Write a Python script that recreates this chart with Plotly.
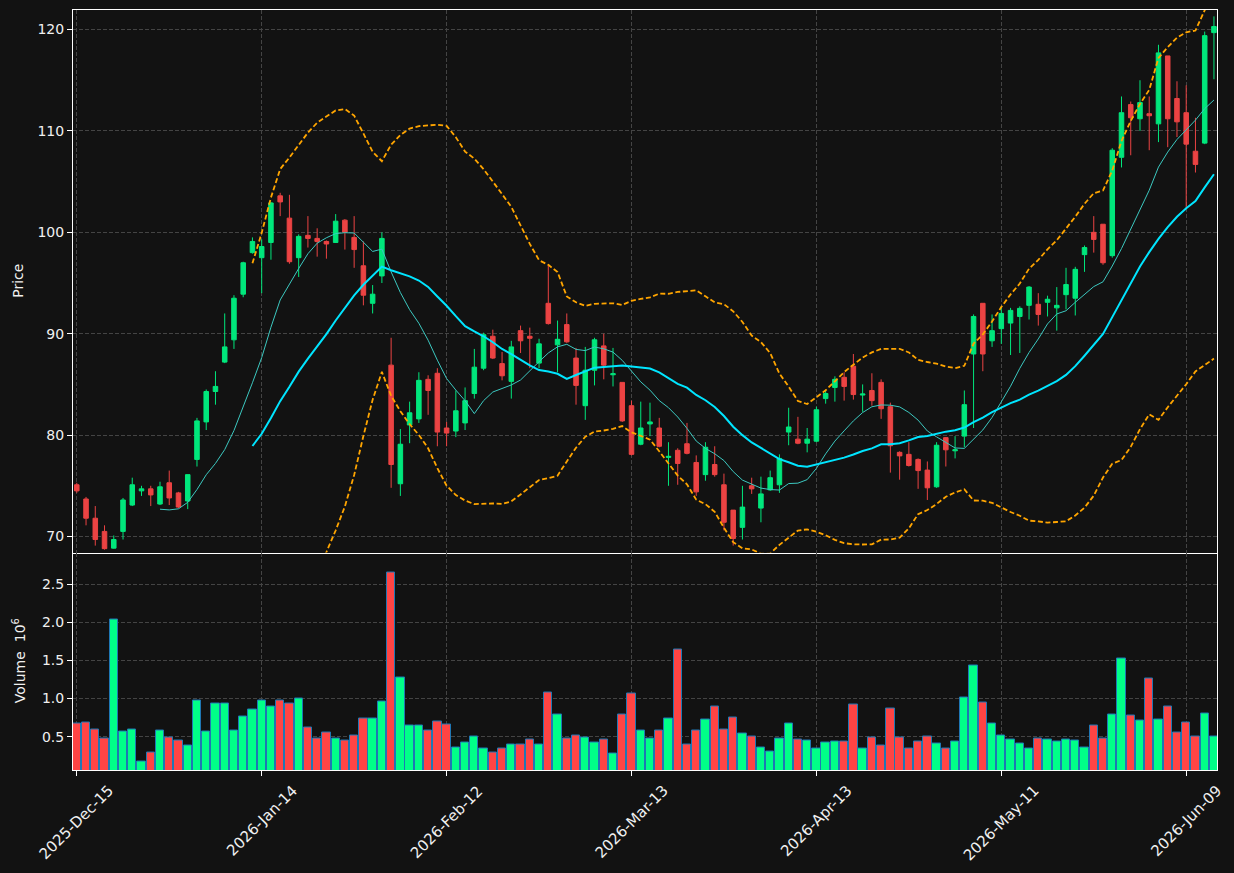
import pandas as pd
import plotly.graph_objects as go

# ---------------- data ----------------
opens = [75.1, 73.7, 71.8, 70.5, 68.85, 70.5, 73.1, 74.5, 74.7, 73.2,
         75.3, 74.3, 73.5, 77.6, 81.3, 84.3, 87.2, 89.4, 93.9, 98.0,
         97.5, 99.0, 103.6, 101.4, 97.5, 99.7, 99.4, 99.1, 99.0, 101.2,
         99.5, 96.7, 93.0, 95.7, 86.9, 75.2, 81.0, 81.6, 85.5, 86.1,
         80.7, 80.4, 81.2, 84.1, 86.6, 89.75, 87.05, 85.3, 90.3, 89.75,
         87.1, 93.0, 88.9, 90.9, 87.6, 82.9, 86.4, 88.8, 85.95, 85.2,
         82.9, 79.1, 81.1, 80.7, 77.8, 78.5, 79.15, 77.3, 76.1, 77.1,
         75.1, 72.6, 70.9, 75.0, 72.8, 74.6, 75.1, 80.3, 79.6, 79.2,
         79.4, 83.6, 84.7, 85.7, 86.8, 83.95, 84.4, 85.2, 82.8, 78.3,
         78.1, 77.6, 76.55, 74.9, 79.75, 78.45, 79.9, 88.0, 93.0, 89.3,
         90.5, 91.05, 91.7, 92.8, 92.9, 93.1, 92.55, 93.85, 93.5, 97.8,
         100.0, 100.8, 97.7, 107.4, 112.6, 111.2, 111.7, 110.7, 117.4, 113.2,
         111.8, 108.0, 108.8, 119.7]
highs = [75.3, 73.9, 73.0, 71.1, 70.1, 73.8, 75.8, 75.0, 75.0, 75.4,
         76.5, 74.4, 76.1, 81.7, 84.5, 86.3, 92.0, 93.8, 97.1, 99.5,
         99.3, 103.0, 103.9, 103.7, 99.8, 101.6, 100.4, 99.2, 101.8, 101.3,
         101.6, 99.1, 94.8, 100.0, 89.6, 80.6, 83.3, 86.2, 85.9, 86.6,
         81.3, 84.4, 84.7, 88.5, 90.1, 90.4, 88.2, 89.3, 90.8, 90.6,
         89.5, 96.7, 91.3, 92.0, 88.6, 88.7, 89.6, 90.0, 88.6, 85.2,
         83.4, 83.3, 83.2, 81.7, 79.3, 78.7, 81.2, 78.0, 79.3, 78.9,
         76.2, 72.6, 75.0, 75.8, 75.9, 76.5, 78.1, 82.7, 81.8, 80.7,
         82.8, 84.4, 85.8, 86.2, 88.0, 85.0, 86.1, 85.5, 83.2, 78.4,
         79.3, 77.7, 77.4, 79.3, 79.8, 79.9, 84.4, 91.9, 93.0, 91.9,
         92.7, 92.55, 92.7, 94.7, 94.0, 93.75, 94.6, 96.5, 96.6, 98.7,
         101.6, 100.8, 108.3, 113.4, 112.9, 115.0, 113.4, 118.5, 117.4, 114.9,
         114.5, 111.3, 119.8, 121.3]
lows = [74.3, 71.1, 69.1, 68.7, 68.8, 69.7, 73.0, 74.0, 73.0, 73.1,
        73.1, 72.8, 72.7, 76.9, 80.5, 83.0, 87.1, 88.5, 93.6, 97.9,
        94.0, 97.3, 101.6, 96.9, 95.6, 98.5, 97.6, 97.4, 99.0, 98.3,
        96.5, 92.8, 92.0, 95.0, 74.8, 74.0, 79.2, 81.2, 82.0, 78.9,
        78.9, 79.8, 80.5, 83.6, 86.4, 87.5, 85.4, 83.6, 88.1, 86.6,
        86.6, 90.9, 86.2, 89.1, 83.0, 81.5, 84.9, 85.5, 84.8, 81.3,
        78.0, 79.0, 79.9, 78.8, 75.0, 75.1, 78.1, 74.0, 75.5, 75.9,
        70.6, 69.1, 69.7, 74.2, 71.4, 74.5, 74.3, 79.0, 79.1, 78.3,
        79.3, 83.1, 83.3, 83.4, 83.5, 82.3, 82.9, 81.6, 76.3, 75.6,
        76.9, 74.7, 73.6, 74.8, 76.9, 77.7, 78.8, 80.7, 86.3, 88.7,
        89.0, 87.9, 88.1, 91.4, 90.8, 91.7, 90.3, 92.4, 91.8, 96.1,
        98.0, 96.8, 97.5, 106.4, 107.6, 110.0, 108.1, 108.9, 108.4, 109.4,
        102.4, 105.9, 108.7, 115.1]
closes = [74.5, 71.8, 69.7, 68.8, 69.7, 73.6, 75.1, 74.7, 74.1, 74.9,
          73.8, 72.9, 76.1, 81.4, 84.3, 84.8, 88.7, 93.5, 97.0, 99.1,
          98.6, 102.9, 103.0, 97.1, 99.6, 99.4, 99.1, 98.85, 101.1, 100.0,
          98.3, 93.8, 93.9, 99.4, 77.1, 79.1, 82.2, 85.4, 84.4, 80.3,
          80.2, 82.4, 83.4, 86.7, 89.9, 87.6, 85.85, 88.7, 89.3, 89.55,
          89.0, 91.0, 89.45, 89.2, 84.9, 86.4, 89.4, 86.9, 86.05, 81.4,
          78.1, 80.7, 81.3, 78.9, 77.9, 77.2, 78.2, 74.4, 78.8, 76.1,
          71.4, 69.8, 72.9, 74.7, 74.2, 75.8, 77.7, 80.8, 79.2, 79.6,
          82.5, 84.1, 85.5, 84.8, 84.0, 84.05, 83.4, 82.6, 78.95, 77.95,
          77.0, 76.5, 74.8, 79.0, 78.55, 78.55, 83.0, 91.7, 88.0, 90.3,
          92.0, 92.3, 92.5, 94.6, 91.9, 93.4, 92.8, 94.85, 96.35, 98.5,
          99.3, 97.0, 108.1, 111.8, 111.3, 112.8, 111.5, 117.7, 111.2, 110.9,
          108.7, 106.7, 119.4, 120.3]
volume_millions = [0.67, 0.69, 0.60, 0.48, 2.04, 0.57, 0.59, 0.17, 0.29, 0.58,
                   0.49, 0.45, 0.38, 0.98, 0.57, 0.94, 0.94, 0.58, 0.77, 0.85,
                   0.98, 0.89, 0.98, 0.94, 1.00, 0.62, 0.47, 0.56, 0.48, 0.45,
                   0.52, 0.74, 0.74, 0.96, 2.65, 1.27, 0.64, 0.64, 0.58, 0.70,
                   0.66, 0.36, 0.42, 0.50, 0.34, 0.29, 0.35, 0.40, 0.40, 0.46,
                   0.40, 1.08, 0.79, 0.47, 0.51, 0.49, 0.42, 0.46, 0.28, 0.79,
                   1.07, 0.58, 0.47, 0.58, 0.74, 1.64, 0.40, 0.58, 0.73, 0.89,
                   0.60, 0.75, 0.54, 0.50, 0.36, 0.30, 0.47, 0.67, 0.46, 0.45,
                   0.34, 0.42, 0.44, 0.44, 0.92, 0.35, 0.49, 0.38, 0.87, 0.49,
                   0.35, 0.44, 0.50, 0.41, 0.35, 0.44, 1.01, 1.43, 0.95, 0.67,
                   0.51, 0.46, 0.41, 0.34, 0.47, 0.46, 0.44, 0.46, 0.45, 0.36,
                   0.64, 0.47, 0.79, 1.53, 0.78, 0.71, 1.26, 0.73, 0.90, 0.56,
                   0.68, 0.50, 0.81, 0.50]
tick_positions = [0, 20, 40, 60, 80, 100, 120]
tick_labels = ["2025-Dec-15", "2026-Jan-14", "2026-Feb-12", "2026-Mar-13",
               "2026-Apr-13", "2026-May-11", "2026-Jun-09"]
price_ticks = [70, 80, 90, 100, 110, 120]
volume_ticks = [0.5, 1.0, 1.5, 2.0, 2.5]

# ---------------- derived ----------------
idx = list(range(len(closes)))
cs = pd.Series(closes)
ma10 = cs.rolling(10).mean()
ma20 = cs.rolling(20).mean()
sd20 = cs.rolling(20).std(ddof=0)
bb_up = ma20 + 2 * sd20
bb_lo = ma20 - 2 * sd20

UP_C, DN_C = "#00e77c", "#eb4343"
VUP_C, VDN_C = "#00ff88", "#ff4444"
vcolors = [VUP_C if c >= o else VDN_C for o, c in zip(opens, closes)]

BG = "#121212"
GRID = "#444444"
FONT = dict(family="DejaVu Sans", size=14, color="#f0f0f0")
XFONT = dict(family="DejaVu Sans", size=15, color="#f0f0f0")

fig = go.Figure()
fig.add_trace(go.Candlestick(
    x=idx, open=opens, high=highs, low=lows, close=closes,
    increasing=dict(fillcolor=UP_C, line=dict(color=UP_C, width=1)),
    decreasing=dict(fillcolor=DN_C, line=dict(color=DN_C, width=1)),
    whiskerwidth=0, xaxis="x", yaxis="y", showlegend=False))
fig.add_trace(go.Scatter(x=idx, y=ma10, mode="lines", line=dict(color="#3cc8c0", width=1),
                         xaxis="x", yaxis="y", showlegend=False))
fig.add_trace(go.Scatter(x=idx, y=ma20, mode="lines", line=dict(color="#00e5ff", width=2),
                         xaxis="x", yaxis="y", showlegend=False))
for band in (bb_up, bb_lo):
    fig.add_trace(go.Scatter(x=idx, y=band, mode="lines",
                             line=dict(color="#ffa500", width=1.8, dash="5px,2.6px"),
                             xaxis="x", yaxis="y", showlegend=False))
fig.add_trace(go.Bar(x=idx, y=volume_millions, width=0.9,
                     marker=dict(color=vcolors, line=dict(color="#1f77b4", width=1)),
                     xaxis="x2", yaxis="y2", showlegend=False))

split = (770 - 552.5) / 760.0
xr = [-0.41, 123.33]
common_x = dict(range=xr, tickmode="array", tickvals=tick_positions, showgrid=True,
                gridcolor=GRID, griddash="4px,2px", gridwidth=1, zeroline=False,
                showline=True, linecolor="white", linewidth=1)
common_y = dict(showgrid=True, gridcolor=GRID, griddash="4px,2px", gridwidth=1, zeroline=False,
                showline=True, linecolor="white", linewidth=1, mirror=True,
                ticks="outside", ticklen=5, tickcolor="white", tickwidth=1, tickfont=FONT)

fig.update_layout(
    width=1234, height=873,
    margin=dict(l=73, r=17, t=10, b=103),
    paper_bgcolor=BG, plot_bgcolor=BG, font=FONT,
    showlegend=False, bargap=0,
    xaxis=dict(anchor="y", showticklabels=False, ticks="", mirror=True,
               rangeslider=dict(visible=False), **common_x),
    xaxis2=dict(anchor="y2", matches="x", showticklabels=False, ticks="outside", ticklen=5,
                tickcolor="white", tickwidth=1, mirror=False, **common_x),
    yaxis=dict(domain=[split, 1], range=[68.42, 121.93], tickmode="array",
               tickvals=price_ticks, ticktext=[str(v) for v in price_ticks], **common_y),
    yaxis2=dict(domain=[0, split], range=[0.063, 2.914], tickmode="array",
                tickvals=volume_ticks, ticktext=[f"{v:.1f}" for v in volume_ticks], **common_y),
)

annotations = []
for pos, lab in zip(tick_positions, tick_labels):
    annotations.append(dict(x=pos, y=-9 / 760, xref="x2", yref="paper", text=lab,
                            textangle=-45, showarrow=False, xanchor="center", yanchor="top",
                            font=XFONT))
annotations.append(dict(x=(18.5 - 73) / 1144, y=(split + 1) / 2, xref="paper", yref="paper",
                        text="Price", textangle=-90, showarrow=False, xanchor="center",
                        yanchor="middle", font=FONT))
annotations.append(dict(x=(19 - 73) / 1144, y=split / 2, xref="paper", yref="paper",
                        text="Volume  10<sup>6</sup>", textangle=-90, showarrow=False,
                        xanchor="center", yanchor="middle", font=FONT))
fig.update_layout(annotations=annotations)

fig.write_html("out.html")
